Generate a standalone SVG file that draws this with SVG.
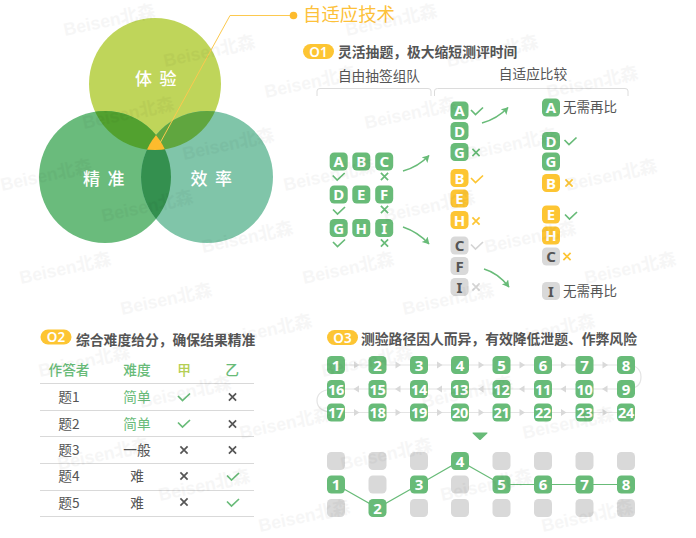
<svg xmlns="http://www.w3.org/2000/svg" width="696" height="538" viewBox="0 0 696 538">
<style>
text{font-family:"Noto Sans CJK SC","Noto Sans",sans-serif}
.v{font-size:17px;fill:#fff;text-anchor:middle;letter-spacing:7.500px;font-weight:500}
.h{font-size:13.800px;font-weight:700;fill:#555}
.pill{fill:#fdc533}
.pt{font-size:13.500px;font-weight:600;fill:#fff;text-anchor:middle;font-family:"Noto Sans",sans-serif}
.s{font-size:13.700px;fill:#555;text-anchor:middle}
.r{font-size:13.500px;fill:#555}
.tl{font-size:15px;font-weight:700;fill:#fff;text-anchor:middle;font-family:"Noto Sans",sans-serif}
.n2{font-size:14.500px;letter-spacing:-.3px}
.dk{fill:#555}
.th{font-size:13.700px;font-weight:500;fill:#68bb78;text-anchor:middle}
.td{font-size:13.700px;fill:#555;text-anchor:middle}
.gt{fill:#68bb78}
.ck{fill:none;stroke-width:1.7}
.cg{stroke:#68bb78}.cy{stroke:#fdc533}.cc{stroke:#d4d4d4}.cd{stroke:#555}
.rule{stroke:#d9d9d9;stroke-width:1}
.wm{font-family:"Liberation Sans","Noto Sans CJK SC",sans-serif;font-size:18px;font-weight:700;fill:#000;opacity:.03}
.gl{fill:none;stroke:#e4e4e4;stroke-width:1.2}
.gh{fill:#d9d9d9}
.arr{fill:none;stroke:#68bb78;stroke-width:1.5}
.pl{fill:none;stroke:#68bb78;stroke-width:1.2}
</style>
<defs>
<rect id="tg" x="-9" y="-9" width="18" height="18" rx="4.500" fill="#68bb78"/>
<rect id="ty" x="-9" y="-9" width="18" height="18" rx="4.500" fill="#fdc533"/>
<rect id="tc" x="-9" y="-9" width="18" height="18" rx="4.500" fill="#d9d9d9"/>
<path id="chk" d="M-6,-1.500 L-1.500,3 L6,-4"/>
<path id="crs" d="M-3.600,-3.600 L3.600,3.600 M3.600,-3.600 L-3.600,3.600"/>
<path id="tri" d="M-2.500,-3.500 L3,0 L-2.500,3.500Z"/>
<marker id="ah" markerWidth="10" markerHeight="10" refX="6.500" refY="4" orient="auto" markerUnits="userSpaceOnUse"><path d="M0,0 L7,4 L0,8 L1.500,4Z" fill="#68bb78"/></marker>
<clipPath id="cT"><circle cx="155" cy="84" r="66"/></clipPath>
<clipPath id="cL"><circle cx="105" cy="177" r="66"/></clipPath>
</defs>

<g id="venn">
<circle cx="155" cy="84" r="66" fill="#bfd55a"/>
<circle cx="105" cy="177" r="66" fill="#6abb7c"/>
<circle cx="207" cy="177" r="66" fill="#80c5a9"/>
<g clip-path="url(#cT)"><circle cx="105" cy="177" r="66" fill="#52a12f"/><circle cx="207" cy="177" r="66" fill="#60a63f"/></g>
<g clip-path="url(#cL)"><circle cx="207" cy="177" r="66" fill="#34904f"/></g>
<g clip-path="url(#cT)"><g clip-path="url(#cL)"><circle cx="207" cy="177" r="66" fill="#fdbb2d"/></g></g>
</g>
<g id="leader">
<path d="M160,143 L230,15.500 L293,15.500" fill="none" stroke="#fcc94f" stroke-width="1"/>
<circle cx="293.500" cy="15.500" r="3.800" fill="#fdbb2d"/>
</g>
<g id="label-tiyan"><text class="v" x="159.500" y="85">体验</text></g>
<g id="label-jingzhun"><text class="v" x="107.500" y="185">精准</text></g>
<g id="label-xiaolv"><text class="v" x="215" y="185">效率</text></g>
<text id="title" x="303" y="21" font-size="18.400" fill="#fdc13a">自适应技术</text>

<g id="sec1-head"><rect class="pill" x="303" y="44" width="31" height="15" rx="7.500"/><text class="pt" x="318.500" y="56.500">O1</text><text class="h" x="338" y="57">灵活抽题，极大缩短测评时间</text></g>
<text class="s" x="379" y="81">自由抽签组队</text>
<text class="s" x="533" y="79">自适应比较</text>
<path class="gl" style="stroke:#dcdcdc;stroke-width:1" d="M317,96 V91 Q317,88.500 320,88.500 H428 Q431,88.500 431,91 V96 M434.500,96 V91 Q434.500,88.500 437.500,88.500 H625 Q628,88.500 628,91 V96"/>

<g id="connectors">
<path class="arr" marker-end="url(#ah)" d="M482,123 Q497,119 508,107.500"/>
<path class="arr" marker-end="url(#ah)" d="M403,171 Q418,167 429,155.500"/>
<path class="arr" marker-end="url(#ah)" d="M403,227 Q418,232 429,244"/>
<path class="arr" marker-end="url(#ah)" d="M484,269 Q498,273 509,287"/>
<path class="gl" d="M336,365 H626 Q641,365 641,377 Q641,389 626,389 H336 Q317,389 317,400.500 Q317,412.500 336,412.500 H626"/>
<g class="gh">
<use href="#tri" x="356.500" y="365"/><use href="#tri" x="398" y="365"/><use href="#tri" x="439.500" y="365"/><use href="#tri" x="481" y="365"/><use href="#tri" x="522" y="365"/><use href="#tri" x="563.500" y="365"/><use href="#tri" x="605" y="365"/>
<use href="#tri" transform="translate(356.500,389) rotate(180)"/><use href="#tri" transform="translate(398,389) rotate(180)"/><use href="#tri" transform="translate(439.500,389) rotate(180)"/><use href="#tri" transform="translate(481,389) rotate(180)"/><use href="#tri" transform="translate(522,389) rotate(180)"/><use href="#tri" transform="translate(563.500,389) rotate(180)"/><use href="#tri" transform="translate(605,389) rotate(180)"/>
<use href="#tri" x="356.500" y="412.500"/><use href="#tri" x="398" y="412.500"/><use href="#tri" x="439.500" y="412.500"/><use href="#tri" x="481" y="412.500"/><use href="#tri" x="522" y="412.500"/><use href="#tri" x="563.500" y="412.500"/><use href="#tri" x="605" y="412.500"/>
</g>
<path class="pl" d="M336,484.500 L377.500,508 L419,484.500 L460,461 L501.500,484.500 H626"/>
</g>

<g id="grid-left">
<g id="l-a" transform="translate(338.700,161.500)"><use href="#tg"/><text class="tl" y="5.500">A</text></g>
<g id="l-b" transform="translate(361.300,161.500)"><use href="#tg"/><text class="tl" y="5.500">B</text></g>
<g id="l-c" transform="translate(384.200,161.500)"><use href="#tg"/><text class="tl" y="5.500">C</text></g>
<g id="l-d" transform="translate(338.700,194.500)"><use href="#tg"/><text class="tl" y="5.500">D</text></g>
<g id="l-e" transform="translate(361.300,194.500)"><use href="#tg"/><text class="tl" y="5.500">E</text></g>
<g id="l-f" transform="translate(384.200,194.500)"><use href="#tg"/><text class="tl" y="5.500">F</text></g>
<g id="l-g" transform="translate(338.700,228)"><use href="#tg"/><text class="tl" y="5.500">G</text></g>
<g id="l-h" transform="translate(361.300,228)"><use href="#tg"/><text class="tl" y="5.500">H</text></g>
<g id="l-i" transform="translate(384.200,228)"><use href="#tg"/><text class="tl" y="5.500">I</text></g>
</g>
<g id="grid-mid">
<g id="m-a" transform="translate(459.500,110.500)"><use href="#tg"/><text class="tl" y="5.500">A</text></g>
<g id="m-d" transform="translate(459.500,131)"><use href="#tg"/><text class="tl" y="5.500">D</text></g>
<g id="m-g" transform="translate(459.500,152)"><use href="#tg"/><text class="tl" y="5.500">G</text></g>
<g id="m-b" transform="translate(459.500,178)"><use href="#ty"/><text class="tl" y="5.500">B</text></g>
<g id="m-e" transform="translate(459.500,198.500)"><use href="#ty"/><text class="tl" y="5.500">E</text></g>
<g id="m-h" transform="translate(459.500,220)"><use href="#ty"/><text class="tl" y="5.500">H</text></g>
<g id="m-c" transform="translate(459.500,245.500)"><use href="#tc"/><text class="tl dk" y="5.500">C</text></g>
<g id="m-f" transform="translate(459.500,266)"><use href="#tc"/><text class="tl dk" y="5.500">F</text></g>
<g id="m-i" transform="translate(459.500,287)"><use href="#tc"/><text class="tl dk" y="5.500">I</text></g>
</g>
<g id="grid-right">
<g id="r-a" transform="translate(551,107.500)"><use href="#tg"/><text class="tl" y="5.500">A</text></g>
<g id="r-d" transform="translate(551,141)"><use href="#tg"/><text class="tl" y="5.500">D</text></g>
<g id="r-g" transform="translate(551,161.500)"><use href="#tg"/><text class="tl" y="5.500">G</text></g>
<g id="r-b" transform="translate(551,183)"><use href="#ty"/><text class="tl" y="5.500">B</text></g>
<g id="r-e" transform="translate(551,214.500)"><use href="#ty"/><text class="tl" y="5.500">E</text></g>
<g id="r-h" transform="translate(551,235.500)"><use href="#ty"/><text class="tl" y="5.500">H</text></g>
<g id="r-c" transform="translate(551,256.500)"><use href="#tc"/><text class="tl dk" y="5.500">C</text></g>
<g id="r-i" transform="translate(551,291)"><use href="#tc"/><text class="tl dk" y="5.500">I</text></g>
<text class="r" x="563" y="112">无需再比</text>
<text class="r" x="563" y="296">无需再比</text>
</g>
<g id="marks" class="ck">
<g class="cg">
<use href="#chk" x="338.700" y="177"/><use href="#chk" x="339" y="211"/><use href="#chk" x="339" y="243.500"/>
<use href="#crs" x="384.500" y="176.500"/><use href="#crs" x="384.500" y="209.500"/><use href="#crs" x="384.500" y="243"/>
<use href="#chk" x="477" y="111.500"/><use href="#crs" x="476" y="152.500"/>
<use href="#chk" x="570.500" y="141.500"/><use href="#chk" x="571" y="216"/>
</g>
<g class="cy">
<use href="#chk" x="477" y="179.500"/><use href="#crs" x="476" y="221"/>
<use href="#crs" x="569" y="183"/><use href="#crs" x="567" y="256.500"/>
</g>
<g class="cc">
<use href="#chk" x="477" y="246"/><use href="#crs" x="476" y="287"/>
</g>
</g>

<g id="sec2-head"><rect class="pill" x="40.500" y="329.500" width="31" height="15" rx="7.500"/><text class="pt" x="56" y="342">O2</text><text class="h" x="76" y="344.500">综合难度给分，确保结果精准</text></g>
<g id="table">
<text class="th" x="69" y="375">作答者</text><text class="th" x="137" y="375">难度</text><text class="th" x="184" y="375" style="fill:#b5cf55">甲</text><text class="th" x="232" y="375">乙</text>
<path class="rule" d="M40,383.500 H254 M40,410.500 H254 M40,436.500 H254 M40,463.500 H254 M40,490.500 H254 M40,516.500 H254"/>
<text class="td" x="69" y="402">题1</text><text class="td gt" x="137" y="402">简单</text>
<text class="td" x="69" y="429">题2</text><text class="td gt" x="137" y="429">简单</text>
<text class="td" x="69" y="455">题3</text><text class="td" x="137" y="455">一般</text>
<text class="td" x="69" y="481">题4</text><text class="td" x="137" y="481">难</text>
<text class="td" x="69" y="508">题5</text><text class="td" x="137" y="508">难</text>
<g class="ck"><g class="cg"><use href="#chk" x="184" y="397.500"/><use href="#chk" x="184" y="424"/><use href="#chk" x="233" y="477"/><use href="#chk" x="233" y="503"/></g>
<g class="cd"><use href="#crs" x="232.500" y="397"/><use href="#crs" x="232.500" y="424"/><use href="#crs" x="184" y="450"/><use href="#crs" x="232.500" y="450"/><use href="#crs" x="184" y="476"/><use href="#crs" x="184" y="502"/></g></g>
</g>

<g id="sec3-head"><rect class="pill" x="327" y="330" width="31" height="15" rx="7.500"/><text class="pt" x="342.500" y="342.500">O3</text><text class="h" x="361" y="343.500">测验路径因人而异，有效降低泄题、作弊风险</text></g>
<g id="path-grid">
<g transform="translate(336,365)"><use href="#tg"/><text class="tl" y="5.500">1</text></g>
<g transform="translate(377.500,365)"><use href="#tg"/><text class="tl" y="5.500">2</text></g>
<g transform="translate(419,365)"><use href="#tg"/><text class="tl" y="5.500">3</text></g>
<g transform="translate(460,365)"><use href="#tg"/><text class="tl" y="5.500">4</text></g>
<g transform="translate(501.500,365)"><use href="#tg"/><text class="tl" y="5.500">5</text></g>
<g transform="translate(543,365)"><use href="#tg"/><text class="tl" y="5.500">6</text></g>
<g transform="translate(584.500,365)"><use href="#tg"/><text class="tl" y="5.500">7</text></g>
<g transform="translate(626,365)"><use href="#tg"/><text class="tl" y="5.500">8</text></g>
<g transform="translate(336,389)"><use href="#tg"/><text class="tl n2" y="5.500">16</text></g>
<g transform="translate(377.500,389)"><use href="#tg"/><text class="tl n2" y="5.500">15</text></g>
<g transform="translate(419,389)"><use href="#tg"/><text class="tl n2" y="5.500">14</text></g>
<g transform="translate(460,389)"><use href="#tg"/><text class="tl n2" y="5.500">13</text></g>
<g transform="translate(501.500,389)"><use href="#tg"/><text class="tl n2" y="5.500">12</text></g>
<g transform="translate(543,389)"><use href="#tg"/><text class="tl n2" y="5.500">11</text></g>
<g transform="translate(584.500,389)"><use href="#tg"/><text class="tl n2" y="5.500">10</text></g>
<g transform="translate(626,389)"><use href="#tg"/><text class="tl" y="5.500">9</text></g>
<g transform="translate(336,412.500)"><use href="#tg"/><text class="tl n2" y="5.500">17</text></g>
<g transform="translate(377.500,412.500)"><use href="#tg"/><text class="tl n2" y="5.500">18</text></g>
<g transform="translate(419,412.500)"><use href="#tg"/><text class="tl n2" y="5.500">19</text></g>
<g transform="translate(460,412.500)"><use href="#tg"/><text class="tl n2" y="5.500">20</text></g>
<g transform="translate(501.500,412.500)"><use href="#tg"/><text class="tl n2" y="5.500">21</text></g>
<g transform="translate(543,412.500)"><use href="#tg"/><text class="tl n2" y="5.500">22</text></g>
<g transform="translate(584.500,412.500)"><use href="#tg"/><text class="tl n2" y="5.500">23</text></g>
<g transform="translate(626,412.500)"><use href="#tg"/><text class="tl n2" y="5.500">24</text></g>
</g>
<path id="down" d="M473,432.500 H487 Q488,432.500 487.300,433.500 L481,439.500 Q480,440.500 479,439.500 L472.700,433.500 Q472,432.500 473,432.500Z" fill="#68bb78"/>
<g id="route-grid">
<use href="#tc" x="336" y="461"/><use href="#tc" x="377.500" y="461"/><use href="#tc" x="419" y="461"/><use href="#tc" x="501.500" y="461"/><use href="#tc" x="543" y="461"/><use href="#tc" x="584.500" y="461"/><use href="#tc" x="626" y="461"/>
<use href="#tc" x="377.500" y="484.500"/><use href="#tc" x="460" y="484.500"/>
<use href="#tc" x="336" y="508"/><use href="#tc" x="419" y="508"/><use href="#tc" x="460" y="508"/><use href="#tc" x="501.500" y="508"/><use href="#tc" x="543" y="508"/><use href="#tc" x="584.500" y="508"/><use href="#tc" x="626" y="508"/>
<g transform="translate(336,484.500)"><use href="#tg"/><text class="tl" y="5.500">1</text></g>
<g transform="translate(377.500,508)"><use href="#tg"/><text class="tl" y="5.500">2</text></g>
<g transform="translate(419,484.500)"><use href="#tg"/><text class="tl" y="5.500">3</text></g>
<g transform="translate(460,461)"><use href="#tg"/><text class="tl" y="5.500">4</text></g>
<g transform="translate(501.500,484.500)"><use href="#tg"/><text class="tl" y="5.500">5</text></g>
<g transform="translate(543,484.500)"><use href="#tg"/><text class="tl" y="5.500">6</text></g>
<g transform="translate(584.500,484.500)"><use href="#tg"/><text class="tl" y="5.500">7</text></g>
<g transform="translate(626,484.500)"><use href="#tg"/><text class="tl" y="5.500">8</text></g>
</g>

<g id="watermark">
<text class="wm" textLength="93" lengthAdjust="spacingAndGlyphs" transform="translate(65,36) rotate(-12)">Beisen北森</text>
<text class="wm" textLength="93" lengthAdjust="spacingAndGlyphs" transform="translate(165,67) rotate(-12)">Beisen北森</text>
<text class="wm" textLength="93" lengthAdjust="spacingAndGlyphs" transform="translate(266,98) rotate(-12)">Beisen北森</text>
<text class="wm" textLength="93" lengthAdjust="spacingAndGlyphs" transform="translate(366,129) rotate(-12)">Beisen北森</text>
<text class="wm" textLength="93" lengthAdjust="spacingAndGlyphs" transform="translate(467,160) rotate(-12)">Beisen北森</text>
<text class="wm" textLength="93" lengthAdjust="spacingAndGlyphs" transform="translate(567,191) rotate(-12)">Beisen北森</text>
<text class="wm" textLength="93" lengthAdjust="spacingAndGlyphs" transform="translate(84,129) rotate(-12)">Beisen北森</text>
<text class="wm" textLength="93" lengthAdjust="spacingAndGlyphs" transform="translate(184,160) rotate(-12)">Beisen北森</text>
<text class="wm" textLength="93" lengthAdjust="spacingAndGlyphs" transform="translate(285,191) rotate(-12)">Beisen北森</text>
<text class="wm" textLength="93" lengthAdjust="spacingAndGlyphs" transform="translate(385,222) rotate(-12)">Beisen北森</text>
<text class="wm" textLength="93" lengthAdjust="spacingAndGlyphs" transform="translate(486,253) rotate(-12)">Beisen北森</text>
<text class="wm" textLength="93" lengthAdjust="spacingAndGlyphs" transform="translate(586,284) rotate(-12)">Beisen北森</text>
<text class="wm" textLength="93" lengthAdjust="spacingAndGlyphs" transform="translate(2,191) rotate(-12)">Beisen北森</text>
<text class="wm" textLength="93" lengthAdjust="spacingAndGlyphs" transform="translate(103,222) rotate(-12)">Beisen北森</text>
<text class="wm" textLength="93" lengthAdjust="spacingAndGlyphs" transform="translate(203,253) rotate(-12)">Beisen北森</text>
<text class="wm" textLength="93" lengthAdjust="spacingAndGlyphs" transform="translate(304,284) rotate(-12)">Beisen北森</text>
<text class="wm" textLength="93" lengthAdjust="spacingAndGlyphs" transform="translate(404,315) rotate(-12)">Beisen北森</text>
<text class="wm" textLength="93" lengthAdjust="spacingAndGlyphs" transform="translate(505,346) rotate(-12)">Beisen北森</text>
<text class="wm" textLength="93" lengthAdjust="spacingAndGlyphs" transform="translate(21,284) rotate(-12)">Beisen北森</text>
<text class="wm" textLength="93" lengthAdjust="spacingAndGlyphs" transform="translate(122,315) rotate(-12)">Beisen北森</text>
<text class="wm" textLength="93" lengthAdjust="spacingAndGlyphs" transform="translate(222,346) rotate(-12)">Beisen北森</text>
<text class="wm" textLength="93" lengthAdjust="spacingAndGlyphs" transform="translate(323,377) rotate(-12)">Beisen北森</text>
<text class="wm" textLength="93" lengthAdjust="spacingAndGlyphs" transform="translate(423,408) rotate(-12)">Beisen北森</text>
<text class="wm" textLength="93" lengthAdjust="spacingAndGlyphs" transform="translate(524,439) rotate(-12)">Beisen北森</text>
<text class="wm" textLength="93" lengthAdjust="spacingAndGlyphs" transform="translate(40,377) rotate(-12)">Beisen北森</text>
<text class="wm" textLength="93" lengthAdjust="spacingAndGlyphs" transform="translate(141,408) rotate(-12)">Beisen北森</text>
<text class="wm" textLength="93" lengthAdjust="spacingAndGlyphs" transform="translate(241,439) rotate(-12)">Beisen北森</text>
<text class="wm" textLength="93" lengthAdjust="spacingAndGlyphs" transform="translate(342,470) rotate(-12)">Beisen北森</text>
<text class="wm" textLength="93" lengthAdjust="spacingAndGlyphs" transform="translate(442,501) rotate(-12)">Beisen北森</text>
<text class="wm" textLength="93" lengthAdjust="spacingAndGlyphs" transform="translate(543,532) rotate(-12)">Beisen北森</text>
<text class="wm" textLength="93" lengthAdjust="spacingAndGlyphs" transform="translate(59,470) rotate(-12)">Beisen北森</text>
<text class="wm" textLength="93" lengthAdjust="spacingAndGlyphs" transform="translate(160,501) rotate(-12)">Beisen北森</text>
<text class="wm" textLength="93" lengthAdjust="spacingAndGlyphs" transform="translate(260,532) rotate(-12)">Beisen北森</text>
<text class="wm" textLength="93" lengthAdjust="spacingAndGlyphs" transform="translate(347,36) rotate(-12)">Beisen北森</text>
<text class="wm" textLength="93" lengthAdjust="spacingAndGlyphs" transform="translate(448,67) rotate(-12)">Beisen北森</text>
<text class="wm" textLength="93" lengthAdjust="spacingAndGlyphs" transform="translate(548,98) rotate(-12)">Beisen北森</text>
</g>
</svg>
